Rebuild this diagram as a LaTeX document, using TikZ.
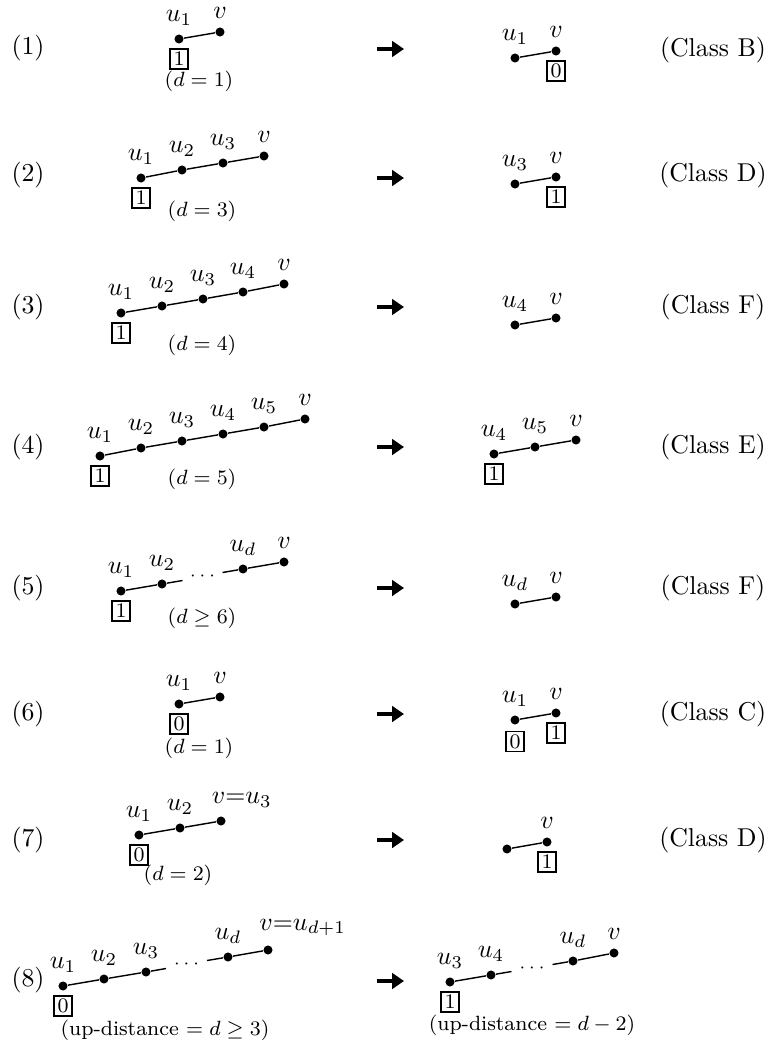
\documentclass[tikz,border=0pt]{standalone}
\usetikzlibrary{arrows.meta}
\begin{document}
\begin{tikzpicture}[x=0.3876pt,y=-0.3876pt,
 dot/.style={circle,fill=black,inner sep=0pt,minimum size=3.5pt},
 edge/.style={line width=0.55pt},
 lab/.style={anchor=south,inner sep=0pt,outer sep=0pt},
 labl/.style={anchor=south west,inner sep=0pt,outer sep=0pt},
 bx/.style={draw,line width=0.45pt,inner sep=0pt,minimum width=7pt,minimum height=7.75pt,font=\footnotesize},
 sm/.style={font=\footnotesize,inner sep=0pt},
 rowlab/.style={inner sep=0pt},
 arr/.style={line width=1.6pt,-{Triangle[length=4.6pt,width=6pt]}},
 gapdots/.style={font=\scriptsize,inner sep=0pt}]
\useasboundingbox (0,0) rectangle (771,1046);

% ---------- row labels ----------
\node[rowlab] (n1) at (28,48) {(1)};
\node[rowlab] (n2) at (28,175) {(2)};
\node[rowlab] (n3) at (28,307) {(3)};
\node[rowlab] (n4) at (28,447) {(4)};
\node[rowlab] (n5) at (28,588) {(5)};
\node[rowlab] (n6) at (28,714) {(6)};
\node[rowlab] (n7) at (28,840) {(7)};
\node[rowlab] (n8) at (28,980) {(8)};

% ---------- class labels ----------
\node[rowlab] (c1) at (713,50) {(Class B)};
\node[rowlab] (c2) at (713,175) {(Class D)};
\node[rowlab] (c3) at (713,307) {(Class F)};
\node[rowlab] (c4) at (713,447) {(Class E)};
\node[rowlab] (c5) at (713,588) {(Class F)};
\node[rowlab] (c6) at (713,714) {(Class C)};
\node[rowlab] (c7) at (713,840) {(Class D)};

% ---------- arrows ----------
\foreach \i/\y in {1/49,2/178,3/307,4/447,5/588,6/714,7/840,8/981}{
  \coordinate (as\i) at (377,\y);
  \coordinate (ae\i) at (404,\y);
  \draw[arr] (as\i) -- (ae\i);
}

% ================= Row 1 =================
\node[dot] (r1a) at (179,39) {};
\node[dot] (r1b) at (220,32) {};
\draw[edge] (r1a) -- (r1b);
\node[lab] (r1al) at ([yshift=5.4pt]r1a) {$u_1$};
\node[lab] (r1bl) at ([yshift=5.4pt]r1b) {$v$};
\node[bx] (r1x) at ([yshift=-7.75pt]r1a) {1};
\node[sm] (r1d) at (199,81) {$(d=1)$};

\node[dot] (R1a) at (515,58) {};
\node[dot] (R1b) at (556,51) {};
\draw[edge] (R1a) -- (R1b);
\node[lab] (R1al) at ([yshift=5.4pt]R1a) {$u_1$};
\node[lab] (R1bl) at ([yshift=5.4pt]R1b) {$v$};
\node[bx] (R1x) at ([yshift=-7.75pt]R1b) {0};

% ================= Row 2 =================
\node[dot] (r2a) at (141,178) {};
\node[dot] (r2b) at (182,170) {};
\node[dot] (r2c) at (223,163) {};
\node[dot] (r2d) at (264,156) {};
\draw[edge] (r2a) -- (r2b) -- (r2c) -- (r2d);
\node[lab] (r2al) at ([yshift=5.4pt]r2a) {$u_1$};
\node[lab] (r2bl) at ([yshift=5.4pt]r2b) {$u_2$};
\node[lab] (r2cl) at ([yshift=5.4pt]r2c) {$u_3$};
\node[lab] (r2dl) at ([yshift=5.4pt]r2d) {$v$};
\node[bx] (r2x) at ([yshift=-7.75pt]r2a) {1};
\node[sm] (r2e) at (202,211) {$(d=3)$};

\node[dot] (R2a) at (515,184) {};
\node[dot] (R2b) at (556,177) {};
\draw[edge] (R2a) -- (R2b);
\node[lab] (R2al) at ([yshift=5.4pt]R2a) {$u_3$};
\node[lab] (R2bl) at ([yshift=5.4pt]R2b) {$v$};
\node[bx] (R2x) at ([yshift=-7.75pt]R2b) {1};

% ================= Row 3 =================
\node[dot] (r3a) at (121,313) {};
\node[dot] (r3b) at (162,306) {};
\node[dot] (r3c) at (203,299) {};
\node[dot] (r3d) at (243,292) {};
\node[dot] (r3e) at (284,284) {};
\draw[edge] (r3a) -- (r3b) -- (r3c) -- (r3d) -- (r3e);
\node[lab] (r3al) at ([yshift=5.4pt]r3a) {$u_1$};
\node[lab] (r3bl) at ([yshift=5.4pt]r3b) {$u_2$};
\node[lab] (r3cl) at ([yshift=5.4pt]r3c) {$u_3$};
\node[lab] (r3dl) at ([yshift=5.4pt]r3d) {$u_4$};
\node[lab] (r3el) at ([yshift=5.4pt]r3e) {$v$};
\node[bx] (r3x) at ([yshift=-7.75pt]r3a) {1};
\node[sm] (r3f) at (202,345) {$(d=4)$};

\node[dot] (R3a) at (515,325) {};
\node[dot] (R3b) at (556,318) {};
\draw[edge] (R3a) -- (R3b);
\node[lab] (R3al) at ([yshift=5.4pt]R3a) {$u_4$};
\node[lab] (R3bl) at ([yshift=5.4pt]R3b) {$v$};

% ================= Row 4 =================
\node[dot] (r4a) at (100,456) {};
\node[dot] (r4b) at (141,448) {};
\node[dot] (r4c) at (182,441) {};
\node[dot] (r4d) at (223,434) {};
\node[dot] (r4e) at (264,427) {};
\node[dot] (r4f) at (305,419) {};
\draw[edge] (r4a) -- (r4b) -- (r4c) -- (r4d) -- (r4e) -- (r4f);
\node[lab] (r4al) at ([yshift=5.4pt]r4a) {$u_1$};
\node[lab] (r4bl) at ([yshift=5.4pt]r4b) {$u_2$};
\node[lab] (r4cl) at ([yshift=5.4pt]r4c) {$u_3$};
\node[lab] (r4dl) at ([yshift=5.4pt]r4d) {$u_4$};
\node[lab] (r4el) at ([yshift=5.4pt]r4e) {$u_5$};
\node[lab] (r4fl) at ([yshift=5.4pt]r4f) {$v$};
\node[bx] (r4x) at ([yshift=-7.75pt]r4a) {1};
\node[sm] (r4g) at (202,479) {$(d=5)$};

\node[dot] (R4a) at (494,454) {};
\node[dot] (R4b) at (535,447) {};
\node[dot] (R4c) at (576,440) {};
\draw[edge] (R4a) -- (R4b) -- (R4c);
\node[lab] (R4al) at ([yshift=5.4pt]R4a) {$u_4$};
\node[lab] (R4bl) at ([yshift=5.4pt]R4b) {$u_5$};
\node[lab] (R4cl) at ([yshift=5.4pt]R4c) {$v$};
\node[bx] (R4x) at ([yshift=-7.75pt]R4a) {1};

% ================= Row 5 =================
\node[dot] (r5a) at (121,591) {};
\node[dot] (r5b) at (162,584) {};
\node[dot] (r5c) at (243,569) {};
\node[dot] (r5d) at (284,562) {};
\coordinate (r5g1) at (182.5,580.5);
\coordinate (r5g2) at (222.5,572.5);
\draw[edge] (r5a) -- (r5b) -- (r5g1);
\draw[edge] (r5g2) -- (r5c) -- (r5d);
\node[gapdots] (r5dots) at (202.5,576.5) {$\cdots$};
\node[lab] (r5al) at ([yshift=5.4pt]r5a) {$u_1$};
\node[lab] (r5bl) at ([yshift=5.4pt]r5b) {$u_2$};
\node[lab] (r5cl) at ([yshift=5.4pt]r5c) {$u_d$};
\node[lab] (r5dl) at ([yshift=5.4pt]r5d) {$v$};
\node[bx] (r5x) at ([yshift=-7.75pt]r5a) {1};
\node[sm] (r5e) at (202,618) {$(d\geq 6)$};

\node[dot] (R5a) at (515,604) {};
\node[dot] (R5b) at (556,597) {};
\draw[edge] (R5a) -- (R5b);
\node[lab] (R5al) at ([yshift=5.4pt]R5a) {$u_d$};
\node[lab] (R5bl) at ([yshift=5.4pt]R5b) {$v$};

% ================= Row 6 =================
\node[dot] (r6a) at (179,704) {};
\node[dot] (r6b) at (220,697) {};
\draw[edge] (r6a) -- (r6b);
\node[lab] (r6al) at ([yshift=5.4pt]r6a) {$u_1$};
\node[lab] (r6bl) at ([yshift=5.4pt]r6b) {$v$};
\node[bx] (r6x) at ([yshift=-7.75pt]r6a) {0};
\node[sm] (r6d) at (199,748) {$(d=1)$};

\node[dot] (R6a) at (515,720) {};
\node[dot] (R6b) at (556,713) {};
\draw[edge] (R6a) -- (R6b);
\node[lab] (R6al) at ([yshift=5.4pt]R6a) {$u_1$};
\node[lab] (R6bl) at ([yshift=5.4pt]R6b) {$v$};
\node[bx] (R6x) at ([yshift=-8.3pt]R6a) {0};
\node[bx] (R6y) at ([yshift=-7.75pt]R6b) {1};

% ================= Row 7 =================
\node[dot] (r7a) at (139,835) {};
\node[dot] (r7b) at (180,828) {};
\node[dot] (r7c) at (221,821) {};
\draw[edge] (r7a) -- (r7b) -- (r7c);
\node[lab] (r7al) at ([yshift=5.4pt]r7a) {$u_1$};
\node[lab] (r7bl) at ([yshift=5.4pt]r7b) {$u_2$};
\node[labl] (r7cl) at ([xshift=-3.5pt,yshift=5.4pt]r7c) {$v{=}u_3$};
\node[bx] (r7x) at ([yshift=-7.75pt]r7a) {0};
\node[sm] (r7d) at (178,875) {$(d=2)$};

\node[dot] (R7a) at (507,849) {};
\node[dot] (R7b) at (547,842) {};
\draw[edge] (R7a) -- (R7b);
\node[lab] (R7bl) at ([yshift=5.4pt]R7b) {$v$};
\node[bx] (R7x) at ([yshift=-7.75pt]R7b) {1};

% ================= Row 8 =================
\node[dot] (r8a) at (63,986) {};
\node[dot] (r8b) at (104,979) {};
\node[dot] (r8c) at (146,972) {};
\node[dot] (r8d) at (228,957) {};
\node[dot] (r8e) at (268,950) {};
\coordinate (r8g1) at (166,968.5);
\coordinate (r8g2) at (207,960.5);
\draw[edge] (r8a) -- (r8b) -- (r8c) -- (r8g1);
\draw[edge] (r8g2) -- (r8d) -- (r8e);
\node[gapdots] (r8dots) at (186.5,964.5) {$\cdots$};
\node[lab] (r8al) at ([yshift=5.4pt]r8a) {$u_1$};
\node[lab] (r8bl) at ([yshift=5.4pt]r8b) {$u_2$};
\node[lab] (r8cl) at ([yshift=5.4pt]r8c) {$u_3$};
\node[lab] (r8dl) at ([yshift=5.4pt]r8d) {$u_d$};
\node[labl] (r8el) at ([xshift=-3.3pt,yshift=5.4pt]r8e) {$v{=}u_{d+1}$};
\node[bx] (r8x) at ([yshift=-7.75pt]r8a) {0};
\node[sm] (r8f) at (165,1030) {(up-distance $=d\geq 3$)};

\node[dot] (R8a) at (450,982) {};
\node[dot] (R8b) at (491,975) {};
\node[dot] (R8c) at (573,961) {};
\node[dot] (R8d) at (614,953) {};
\coordinate (R8g1) at (511.5,971.5);
\coordinate (R8g2) at (552.5,964.5);
\draw[edge] (R8a) -- (R8b) -- (R8g1);
\draw[edge] (R8g2) -- (R8c) -- (R8d);
\node[gapdots] (R8dots) at (532,968) {$\cdots$};
\node[lab] (R8al) at ([yshift=5.4pt]R8a) {$u_3$};
\node[lab] (R8bl) at ([yshift=5.4pt]R8b) {$u_4$};
\node[lab] (R8cl) at ([yshift=5.4pt]R8c) {$u_d$};
\node[lab] (R8dl) at ([yshift=5.4pt]R8d) {$v$};
\node[bx] (R8x) at ([yshift=-7.75pt]R8a) {1};
\node[sm] (R8f) at (532,1025) {(up-distance $=d-2$)};
\end{tikzpicture}
\end{document}
